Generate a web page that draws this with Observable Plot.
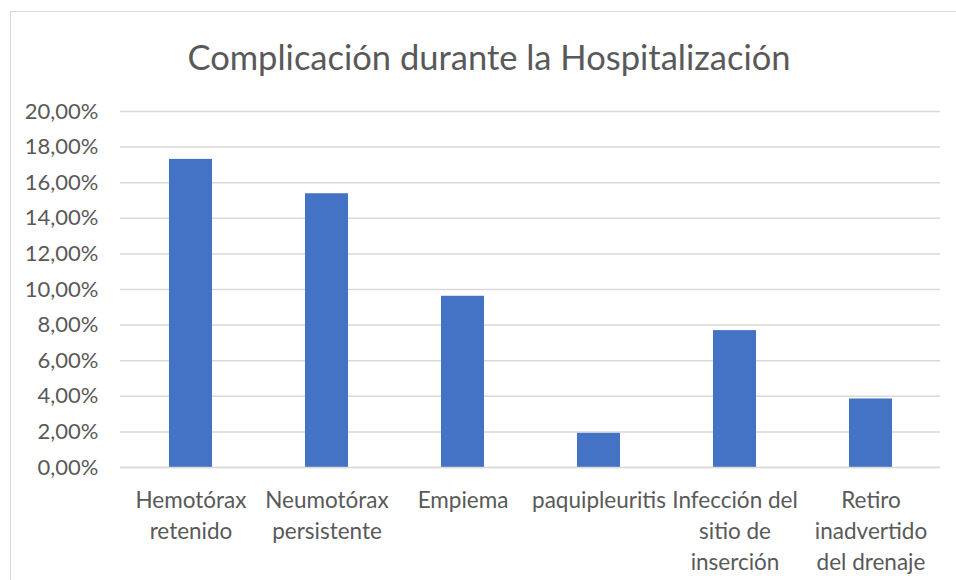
<!DOCTYPE html>
<html>
<head>
<meta charset="utf-8">
<script src="https://cdn.jsdelivr.net/npm/d3@7"></script>
<script src="https://cdn.jsdelivr.net/npm/@observablehq/plot@0.6"></script>
<style>
  html, body { margin: 0; padding: 0; background: #fff; }
  #wrap { position: relative; width: 956px; height: 580px; overflow: hidden; font-family: Lato, "Open Sans", sans-serif; }
  #frame { position: absolute; left: 10px; top: 11px; width: 960px; height: 620px; border: 1.5px solid #d9d9d9; box-sizing: border-box; }
  #title { position: absolute; left: 0; top: 40px; width: 978px; text-align: center; font-size: 34.5px; color: #595959; line-height: 1; }
  #chart { position: absolute; left: 0; top: 0; }
</style>
</head>
<body>
<div id="wrap">
  <div id="frame"></div>
  <div id="title">Complicación durante la Hospitalización</div>
  <div id="chart"></div>
</div>
<script>
const categories = [
  "Hemotórax\nretenido",
  "Neumotórax\npersistente",
  "Empiema",
  "paquipleuritis",
  "Infección del\nsitio de\ninserción",
  "Retiro\ninadvertido\ndel drenaje"
];
const values = [0.1731, 0.1538, 0.0962, 0.0192, 0.0769, 0.0385];
const yTicks = [0, 0.02, 0.04, 0.06, 0.08, 0.10, 0.12, 0.14, 0.16, 0.18, 0.20];

const data = categories.map((c, i) => ({cat: c, value: values[i]}));
const fmt = d => (d * 100).toFixed(2).replace(".", ",") + "%";

const chart = Plot.plot({
  width: 956,
  height: 580,
  marginLeft: 120,
  marginRight: 16,
  marginTop: 111,
  marginBottom: 113,
  style: { fontFamily: "Lato, 'Open Sans', sans-serif", color: "#595959", background: "transparent", overflow: "visible" },
  x: { domain: categories, paddingInner: 0.685, paddingOuter: 0.3425, label: null },
  y: { domain: [0, 0.2], label: null },
  marks: [
    Plot.ruleY(yTicks, { stroke: "#d9d9d9", strokeWidth: 1.5 }),
    Plot.barY(data, { x: "cat", y: "value", fill: "#4472C4" }),
    Plot.ruleY([0], { stroke: "#d9d9d9", strokeWidth: 1.5 }),
    Plot.axisY(yTicks, { tickSize: 0, tickPadding: 22, tickFormat: fmt, fontSize: 22, fill: "#595959", label: null }),
    Plot.axisX({ tickSize: 0, tickPadding: 18, fontSize: 22.5, fill: "#595959", lineHeight: 1.38, label: null, textOverflow: null })
  ]
});
document.getElementById("chart").appendChild(chart);
</script>
</body>
</html>
